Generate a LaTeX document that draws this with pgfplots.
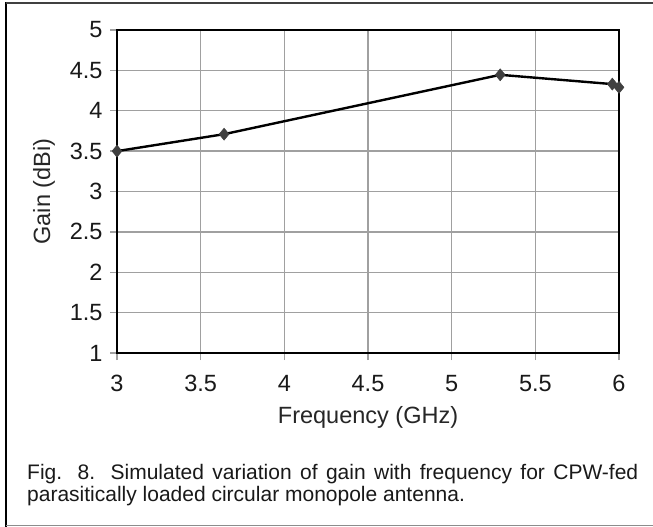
\documentclass[border=0pt]{standalone}
\usepackage{fontspec}
\setmainfont{Liberation Sans}
\usepackage{pgfplots}
\pgfplotsset{compat=1.18}
\definecolor{gridgray}{HTML}{A0A0A0}
\definecolor{markgray}{HTML}{404040}
\begin{document}
\begin{tikzpicture}[x=1bp,y=1bp]
\path[use as bounding box,fill=white] (0,0) rectangle (653,-527);
\draw[black,line width=2.2bp] (6,-2) -- (6,-527);
\draw[black!75,line width=1.5bp] (6,-3) -- (653,-3);
\draw[black!45,line width=1.2bp] (6,-525.5) -- (653,-525.5);
\begin{axis}[
  at={(117bp,-353bp)}, anchor=south west,
  scale only axis, width=502bp, height=323bp,
  xmin=3, xmax=6, ymin=1, ymax=5,
  xtick={3,3.5,...,6}, ytick={1,1.5,...,5},
  xticklabels={3,3.5,4,4.5,5,5.5,6},
  yticklabels={1,1.5,2,2.5,3,3.5,4,4.5,5},
  grid=major,
  major grid style={gridgray,line width=1.4bp},
  axis line style={black,line width=2.2bp},
  tick align=outside, tick pos=left,
  major tick length=7bp,
  tick style={gridgray,line width=1.4bp},
  /pgf/number format/assume math mode=true,
  ticklabel style={font=\fontsize{23.5bp}{26bp}\selectfont, text=black!90},
  xticklabel style={yshift=-12bp},
  yticklabel style={xshift=-4bp},
  label style={font=\fontsize{23.5bp}{26bp}\selectfont, text=black!85},
  xlabel={Frequency (GHz)},
  ylabel={Gain (dBi)},
  xlabel style={yshift=-7bp},
  ylabel style={at={(axis description cs:-0.1455,0.5)}, anchor=center},
]
\addplot[black, line width=2.4bp, mark=diamond*, mark size=6bp,
  mark options={fill=markgray, draw=markgray, line width=0.5bp, xscale=1.1}]
  coordinates {(3,3.5) (3.64,3.71) (5.29,4.445) (5.96,4.33) (6,4.29)};
\end{axis}
\node[anchor=north west, inner sep=0pt, text width=611bp, align=justify,
  font=\fontsize{21bp}{22.5bp}\selectfont, text=black!90] at (27,-464)
  {Fig. 8. Simulated variation of gain with frequency for CPW-fed parasitically loaded circular monopole antenna.};
\end{tikzpicture}
\end{document}
